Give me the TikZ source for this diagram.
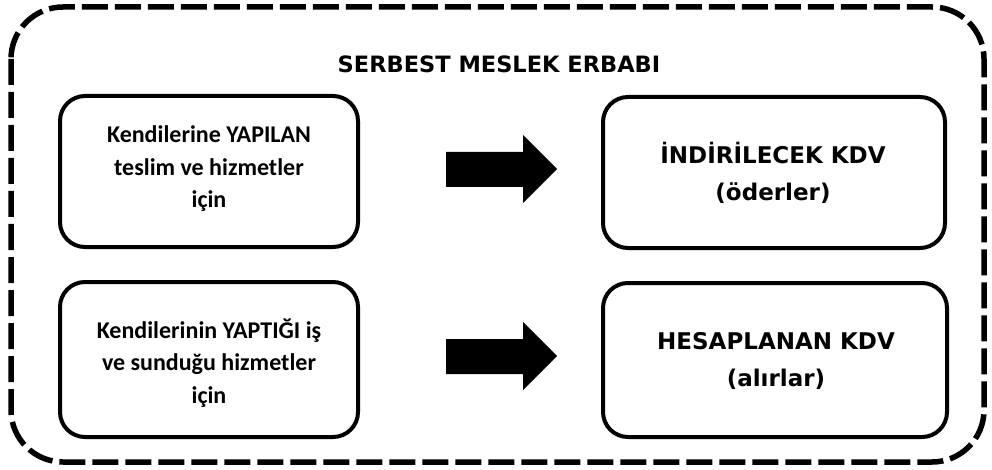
\documentclass[tikz,border=0pt]{standalone}
\usepackage{fontspec}
\setmainfont{Carlito}
\newfontfamily\wideface{DejaVu Sans}
\begin{document}
\begin{tikzpicture}[x=1pt,y=-1pt,
  outerbox/.style={draw=black,line width=5.5pt,dash pattern=on 26pt off 7pt,rounded corners=52pt},
  itembox/.style={draw=black,line width=4pt,rounded corners=25pt,fill=white},
  boxtext/.style={align=center,font=\bfseries\fontsize{24}{32.5}\selectfont},
  bigtext/.style={align=center,font=\wideface\bfseries\fontsize{23}{37}\selectfont},
  fatarrow/.style={fill=black,draw=none}]
\useasboundingbox (0,0) rectangle (992,470);
\draw[outerbox] (11,7) rectangle (984,462);
\node[font=\wideface\bfseries\fontsize{22.5}{24}\selectfont] (title) at (499,64) {SERBEST MESLEK ERBABI};
% boxes
\draw[itembox] (60,96) rectangle (358,247);
\node[boxtext] (t1) at (209,169) {Kendilerine YAPILAN\\teslim ve hizmetler\\için};
\draw[itembox] (603,97) rectangle (945,248);
\node[bigtext] (t2) at (773,173) {İNDİRİLECEK KDV\\(öderler)};
\draw[itembox] (60,282) rectangle (358,437);
\node[boxtext] (t3) at (209,363) {Kendilerinin YAPTIĞI iş\\ve sunduğu hizmetler\\için};
\draw[itembox] (603,283) rectangle (947,437);
\node[bigtext] (t4) at (776,361) {HESAPLANAN KDV\\(alırlar)};
% arrows
\fill[fatarrow] (446,152) -- (523,152) -- (523,135) -- (557,169) -- (523,203) -- (523,187) -- (446,187) -- cycle;
\fill[fatarrow] (446,339) -- (523,339) -- (523,322) -- (557,356) -- (523,390) -- (523,374) -- (446,374) -- cycle;
\end{tikzpicture}
\end{document}
